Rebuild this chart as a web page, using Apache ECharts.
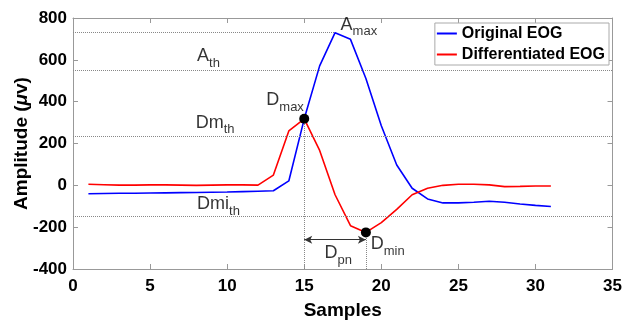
<!DOCTYPE html>
<html>
<head>
<meta charset="utf-8">
<script src="https://cdn.jsdelivr.net/npm/echarts@6/dist/echarts.min.js"></script>
<style>
  html, body { margin: 0; padding: 0; background: #fff; }
  #chart { width: 625px; height: 325px; }
</style>
</head>
<body>
<div id="chart"></div>
<script>
// sample index 1..31
const samples = [1, 2, 3, 4, 5, 6, 7, 8, 9, 10, 11, 12, 13, 14, 15, 16, 17, 18, 19, 20, 21, 22, 23, 24, 25, 26, 27, 28, 29, 30, 31];
const originalEog = [-40, -39, -38, -38, -37, -36, -35, -34, -33, -32, -30, -28, -26, 21, 318, 571, 730, 698, 511, 285, 97, -14, -65, -84, -84, -81, -76, -81, -89, -96, -101];
const differentiatedEog = [5, 3, 1, 1, 2, 2, 1, 0, 1, 2, 2, 1, 49, 260, 318, 167, -45, -193, -225, -178, -115, -45, -14, 0, 5, 5, 2, -6, -5, -3, -3];

// threshold lines: level and where they stop on the x axis
const thresholdLevels = [730, 550, 237, -146];
const thresholdEnds = [17, 35, 35, 35];

// D_max and D_min points
const peakPoints = [[15, 318], [19, -225]];
// D_pn arrow: from, to, level
const dpnArrow = [15, 19, -260];

// annotation text (main, subscript) and where it sits
const noteTexts = [['A', 'max'], ['A', 'th'], ['D', 'max'], ['Dm', 'th'], ['Dmi', 'th'], ['D', 'pn'], ['D', 'min']];
const notePositions = [[17.36, 778], [8.05, 628], [12.54, 417], [7.96, 309], [8.05, -81], [16.31, -315], [19.31, -273]];

const chart = echarts.init(document.getElementById('chart'));
const font = 'Liberation Sans, Arial, sans-serif';
const axisGray = '#999';

const dotted = { type: 'dotted', color: '#888', width: 1 };

const guideLines = thresholdLevels.map((v, i) => [
  { coord: [0, v] },
  { coord: [thresholdEnds[i], v] }
]);
peakPoints.forEach((p) => {
  guideLines.push([{ coord: [p[0], -400] }, { coord: [p[0], p[1]] }]);
});

const option = {
  animation: false,
  textStyle: { fontFamily: font },
  grid: { left: 73, right: 10, top: 18, bottom: 51 },
  legend: {
    data: ['Original EOG', 'Differentiated EOG'],
    orient: 'vertical',
    right: 16,
    top: 23,
    icon: 'rect',
    itemWidth: 20,
    itemHeight: 2,
    itemGap: 4,
    padding: [2, 4, 2, 2],
    borderColor: '#aaa',
    borderWidth: 1,
    borderRadius: 0,
    backgroundColor: '#fff',
    textStyle: { fontFamily: font, fontWeight: 'bold', fontSize: 16, color: '#000', lineHeight: 17 }
  },
  xAxis: [
    {
      type: 'value',
      min: 0, max: 35, interval: 5,
      name: 'Samples',
      nameLocation: 'middle',
      nameGap: 32,
      nameMoveOverlap: false,
      nameTextStyle: { fontFamily: font, fontWeight: 'bold', fontSize: 19, color: '#000' },
      axisLine: { onZero: false, lineStyle: { color: axisGray } },
      axisTick: { inside: true, length: 5, lineStyle: { color: axisGray } },
      axisLabel: { fontFamily: font, fontWeight: 'bold', fontSize: 17, color: '#000', margin: 9 },
      splitLine: { show: false }
    },
    {
      type: 'value',
      position: 'top',
      min: 0, max: 35, interval: 5,
      axisLine: { show: true, onZero: false, lineStyle: { color: axisGray } },
      axisTick: { inside: true, length: 5, lineStyle: { color: axisGray } },
      axisLabel: { show: false },
      splitLine: { show: false }
    }
  ],
  yAxis: [
    {
      type: 'value',
      min: -400, max: 800, interval: 200,
      name: '{b|Amplitude (}{i|\u03bc}{b|v)}',
      nameLocation: 'middle',
      nameGap: 42,
      nameMoveOverlap: false,
      nameRotate: 90,
      nameTextStyle: {
        rich: {
          b: { fontFamily: font, fontWeight: 'bold', fontSize: 19, color: '#000' },
          i: { fontFamily: font, fontWeight: 'bold', fontStyle: 'italic', fontSize: 19, color: '#000' }
        }
      },
      axisLine: { show: true, onZero: false, lineStyle: { color: axisGray } },
      axisTick: { show: true, inside: true, length: 5, lineStyle: { color: axisGray } },
      axisLabel: { fontFamily: font, fontWeight: 'bold', fontSize: 17, color: '#000', margin: 6 },
      splitLine: { show: false }
    },
    {
      type: 'value',
      position: 'right',
      min: -400, max: 800, interval: 200,
      axisLine: { show: true, onZero: false, lineStyle: { color: axisGray } },
      axisTick: { show: true, inside: true, length: 5, lineStyle: { color: axisGray } },
      axisLabel: { show: false },
      splitLine: { show: false }
    }
  ],
  series: [
    {
      name: 'Original EOG',
      type: 'line',
      symbol: 'none',
      color: '#0000ff',
      lineStyle: { color: '#0000ff', width: 1.6 },
      data: samples.map((s, i) => [s, originalEog[i]]),
      z: 3,
      markLine: {
        silent: true,
        symbol: 'none',
        label: { show: false },
        lineStyle: dotted,
        data: guideLines
      }
    },
    {
      name: 'Differentiated EOG',
      type: 'line',
      symbol: 'none',
      color: '#ff0000',
      lineStyle: { color: '#ff0000', width: 1.6 },
      data: samples.map((s, i) => [s, differentiatedEog[i]]),
      z: 3,
      markLine: {
        silent: true,
        symbol: ['arrow', 'arrow'],
        symbolSize: [6, 8],
        label: { show: false },
        lineStyle: { type: 'solid', color: '#333', width: 1 },
        data: [[{ coord: [dpnArrow[0], dpnArrow[2]] }, { coord: [dpnArrow[1], dpnArrow[2]] }]]
      }
    },
    {
      name: 'peaks',
      type: 'scatter',
      symbol: 'circle',
      symbolSize: 10,
      itemStyle: { color: '#000', opacity: 1 },
      data: peakPoints,
      z: 5,
      silent: true
    },
    {
      name: 'notes',
      type: 'scatter',
      symbolSize: 0,
      silent: true,
      data: notePositions.map((p, i) => ({ value: p, note: noteTexts[i] })),
      label: {
        show: true,
        position: [0, 0],
        align: 'left',
        verticalAlign: 'middle',
        offset: [0, 9],
        formatter: (p) => '{m|' + p.data.note[0] + '}{s|' + p.data.note[1] + '}',
        rich: {
          m: { fontFamily: font, fontSize: 18, color: '#000', padding: [0, 0, 14, 0] },
          s: { fontFamily: font, fontSize: 13, color: '#000' }
        }
      }
    }
  ]
};

chart.setOption(option);
</script>
</body>
</html>
